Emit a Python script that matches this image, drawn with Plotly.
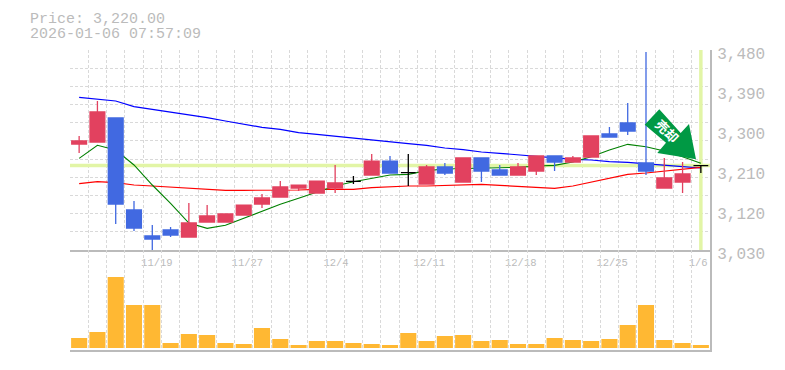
import plotly.graph_objects as go

W, H = 785, 370
RED, BLUE, BLACK = "#E2415F", "#4169E1", "#000000"
GRID = "#D9D9D9"
AXIS = "#BBBBBB"
TXT = "#BBBBBB"
LIME = "#E2F5A6"
MONO = "Liberation Mono"

index = list(range(35))

up_idx = [0, 1, 6, 7, 8, 9, 10, 11, 12, 13, 14, 16, 19, 21, 24, 25, 27, 28, 32, 33]
up_open = [3268.5, 3273, 3059.25, 3093, 3093, 3108.75, 3133.5, 3149.25, 3169.5, 3158, 3169.5, 3198.75,
           3178.5, 3183, 3198.75, 3207.75, 3228, 3239.25, 3169.5, 3183]
up_close = [3275.25, 3340.5, 3090.75, 3106.5, 3111, 3131, 3147, 3171.75, 3176, 3185, 3180.75, 3230,
            3216.75, 3237, 3216.75, 3241.5, 3237, 3286.5, 3192, 3201]
up_high = [3286.5, 3365.25, 3135.75, 3131.25, 3111, 3131, 3156, 3185, 3176, 3185, 3221, 3246,
           3221, 3237, 3226, 3241.5, 3241.5, 3286.5, 3237, 3228]
up_low = [3248.25, 3273, 3059.25, 3093, 3093, 3108.75, 3124.5, 3149.25, 3162.75, 3158, 3158, 3198.75,
          3178.5, 3183, 3198.75, 3198.75, 3228, 3239.25, 3169.5, 3158.25]

down_idx = [2, 3, 4, 5, 17, 20, 22, 23, 26, 29, 30, 31]
down_open = [3327, 3120, 3061.5, 3075, 3230, 3216.75, 3237, 3210, 3241.5, 3291, 3315.75, 3225.75]
down_close = [3133.5, 3079.5, 3054.75, 3063.75, 3203, 3203.25, 3207.75, 3198.75, 3228, 3284.25, 3297.75, 3207.75]
down_high = [3327, 3140, 3086, 3081.75, 3241.5, 3226, 3237, 3221, 3241.5, 3306.75, 3360.75, 3475.5]
down_low = [3088.5, 3072.75, 3028.5, 3059.25, 3203, 3198.75, 3183, 3198.75, 3207.75, 3284.25, 3288.75, 3198.75]

flat_idx = [15, 18, 34]
flat_price = [3184.5, 3204, 3220]
flat_high = [3196.5, 3246, 3221]
flat_low = [3178.5, 3174, 3203]

ma_blue = [3373.5, 3369.75, 3365.25, 3352.5, 3346.5, 3340.5, 3334.5, 3327.75, 3320.25, 3312.75, 3306, 3301.5,
           3294, 3290.25, 3285.75, 3281.25, 3278.25, 3272.25, 3269.25, 3265.5, 3259.5, 3255.75, 3250.5, 3247.5,
           3243.75, 3240.75, 3237, 3234, 3232.5, 3228.75, 3227.25, 3223.5, 3220.5, 3217.5, 3214.5]
ma_red = [3179.25, 3183.75, 3181.5, 3176.25, 3174, 3171.75, 3169.5, 3167.25, 3164.25, 3164.25, 3164.25, 3164.25,
          3165, 3166.5, 3166.5, 3166.5, 3170.25, 3172.5, 3174, 3174, 3175.5, 3177, 3177.75, 3175.5,
          3173.25, 3171.75, 3168.75, 3174, 3183, 3191.25, 3200.25, 3203.25, 3207.75, 3212.25, 3216]
ma_green = [3236.25, 3265.5, 3255, 3221.25, 3176.25, 3135, 3090.75, 3078.75, 3085.5, 3101.25, 3118.5, 3132.75,
            3146.25, 3160.5, 3174, 3183.75, 3192, 3198.75, 3200.25, 3208.5, 3212.25, 3213, 3213.75, 3215.25,
            3216, 3219, 3220.5, 3228, 3240, 3255, 3267.75, 3262.5, 3252.75, 3240, 3225]

volume = [10, 16, 71, 43, 43, 5, 14, 13, 5, 4, 20, 9, 3, 7, 7, 5, 4, 3, 15, 7, 12, 13, 7, 8, 4, 4, 10, 8, 7, 9, 23, 43, 8, 5, 3]

label_index = [4.25, 9.2, 14.05, 19.15, 24.15, 29.15, 33.85]
label_text = ["11/19", "11/27", "12/4", "12/11", "12/18", "12/25", "1/6"]
price_ticks = [3030, 3120, 3210, 3300, 3390, 3480]
price_labels = ["3,030", "3,120", "3,210", "3,300", "3,390", "3,480"]
current_price = 3220
price_min, price_max = 3030, 3480

fig = go.Figure()

fig.add_trace(go.Scatter(x=[-0.5, 34.5], y=[current_price, current_price], mode="lines",
                         line=dict(color=LIME, width=3.5), hoverinfo="skip"))
fig.add_trace(go.Scatter(x=[34, 34], y=[price_min, price_max], mode="lines",
                         line=dict(color=LIME, width=3.5), hoverinfo="skip"))
for vals, col, w in [(ma_blue, "#0000FF", 1.2), (ma_red, "#FF0000", 1.2), (ma_green, "#008000", 1.1)]:
    fig.add_trace(go.Scatter(x=index, y=vals, mode="lines", line=dict(color=col, width=w), hoverinfo="skip"))


def candle(x, o, h, l, c, col):
    s = dict(line=dict(color=col, width=1.3), fillcolor=col)
    fig.add_trace(go.Candlestick(x=x, open=o, high=h, low=l, close=c, increasing=s, decreasing=s,
                                 whiskerwidth=0, xaxis="x2", yaxis="y2"))


candle(up_idx, up_open, up_high, up_low, up_close, RED)
candle(down_idx, down_open, down_high, down_low, down_close, BLUE)
candle(flat_idx, flat_price, flat_high, flat_low, flat_price, BLACK)

fig.add_trace(go.Bar(x=index, y=volume, marker=dict(color="#FFB833", line_width=0), xaxis="x3", yaxis="y3"))

L, R = 70 / W, 710 / W
main_dom = [1 - 250 / H, 1 - 50 / H]
vol_dom = [1 - 350 / H, 1 - 250 / H]
xgrid = dict(range=[-0.5, 34.5], tickmode="linear", tick0=-0.5, dtick=1, showgrid=True, gridcolor=GRID,
             gridwidth=1, griddash="3px,2px", showticklabels=False, ticks="", zeroline=False, domain=[L, R])

fig.update_layout(
    width=W, height=H, autosize=False, showlegend=False, plot_bgcolor="white", paper_bgcolor="white",
    margin=dict(l=0, r=0, t=0, b=0, autoexpand=False), bargap=0.12, boxgap=0.19, boxgroupgap=0,
    xaxis=dict(**xgrid, anchor="y", showline=False),
    yaxis=dict(domain=main_dom, range=[price_min, price_max], tickmode="linear", tick0=price_min,
               dtick=(price_max - price_min) / 11, showgrid=True, gridcolor=GRID, griddash="3px,2px",
               showticklabels=False, ticks="", zeroline=False, anchor="x"),
    xaxis2=dict(overlaying="x", anchor="y2", domain=[L, R], range=[-0.5, 34.5], tickmode="array",
                tickvals=label_index, ticktext=label_text, showgrid=False, ticks="", zeroline=False,
                rangeslider=dict(visible=False), showline=True, linecolor=AXIS, linewidth=2,
                tickfont=dict(family=MONO, size=10.5, color=TXT), ticklabelstandoff=1),
    yaxis2=dict(overlaying="y", anchor="x2", side="right", domain=main_dom, range=[price_min, price_max],
                tickmode="array", tickvals=price_ticks, ticktext=price_labels, showgrid=False, ticks="",
                zeroline=False, showline=True, linecolor=AXIS, linewidth=2,
                tickfont=dict(family=MONO, size=16, color=TXT), ticklabelstandoff=2, ticklabelshift=3),
    xaxis3=dict(**xgrid, anchor="y3", showline=True, linecolor=AXIS, linewidth=2),
    yaxis3=dict(domain=vol_dom, range=[-2, 98], anchor="x3", side="right", showgrid=False, ticks="",
                showticklabels=False, zeroline=False, showline=True, linecolor=AXIS, linewidth=2),
)


def px(x, y):
    return f"{x / W:.5f} {1 - y / H:.5f}"


arrow = [(659.3, 109.3), (680.7, 133), (689, 124), (696, 159.3), (657.3, 153), (666, 142.7), (644.7, 124.7)]
path = "M " + " L ".join(px(*p) for p in arrow) + " Z"
fig.add_shape(type="path", path=path, xref="paper", yref="paper", fillcolor="#009944", line_width=0, layer="above")
fig.add_annotation(text="<b>売却</b>", x=666.7 / W, y=1 - 131 / H, xref="paper", yref="paper", showarrow=False,
                   xanchor="center", yanchor="middle", textangle=45,
                   font=dict(family="Noto Sans CJK JP", size=13, color="white"))

for txt, y in [("Price: 3,220.00", 18), ("2026-01-06 07:57:09", 33)]:
    fig.add_annotation(text=txt, x=28 / W, y=1 - (y + 1.5) / H, xref="paper", yref="paper", showarrow=False,
                       xanchor="left", yanchor="middle", font=dict(family=MONO, size=15, color=TXT))

fig.write_html("out.html", config=dict(displayModeBar=False),
               post_script="document.body.style.margin='0';")
